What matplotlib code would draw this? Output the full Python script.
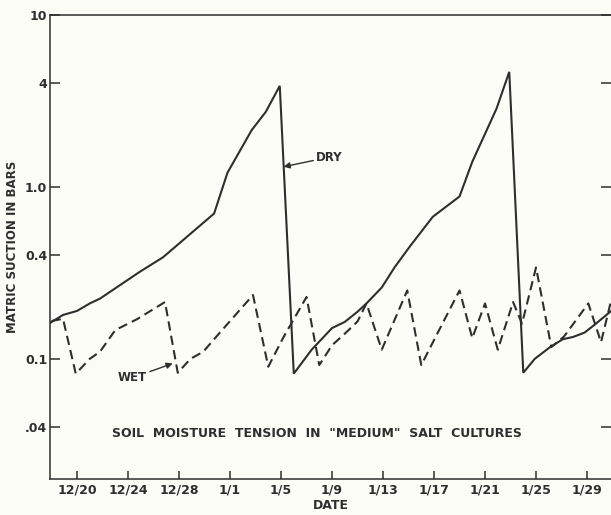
import matplotlib
matplotlib.use("Agg")
import matplotlib.pyplot as plt
from matplotlib.ticker import FixedLocator, NullLocator

# days counted from 12/20
dias_seco = [-2.1, -1.1, 0.0, 1.0, 1.8, 4.9, 6.75, 10.75, 11.8, 13.7, 14.8, 15.9,
             17.0, 18.4, 20.0, 21.0, 22.0, 22.7, 23.9, 24.9, 26.1, 27.9, 30.0, 31.0,
             32.9, 33.9, 35.0, 35.9, 37.1, 38.1, 38.9, 39.8, 40.6, 41.9]
succao_seco = [0.162, 0.18, 0.19, 0.21, 0.224, 0.32, 0.39, 0.70, 1.21, 2.14, 2.73, 3.87,
               0.082, 0.113, 0.151, 0.164, 0.188, 0.21, 0.26, 0.34, 0.45, 0.67, 0.88, 1.40,
               2.85, 4.67, 0.083, 0.10, 0.117, 0.13, 0.134, 0.142, 0.158, 0.19]

dias_umido = [-2.0, -1.1, -0.1, 1.0, 1.8, 3.0, 4.7, 6.9, 7.9, 8.9, 9.9, 11.2, 13.8,
              15.0, 16.2, 18.0, 19.0, 20.0, 21.0, 22.0, 22.7, 23.9, 25.9, 27.0, 28.5,
              30.0, 31.0, 32.0, 33.0, 34.2, 34.9, 36.0, 37.2, 38.2, 40.1, 41.1, 41.9]
succao_umido = [0.166, 0.171, 0.082, 0.10, 0.11, 0.147, 0.17, 0.214, 0.083, 0.10, 0.11, 0.142, 0.235,
                0.09, 0.134, 0.229, 0.092, 0.12, 0.14, 0.165, 0.21, 0.113, 0.25, 0.092, 0.152,
                0.25, 0.132, 0.21, 0.113, 0.214, 0.16, 0.34, 0.117, 0.135, 0.21, 0.125, 0.22]

posicao_datas = [0, 4, 8, 12, 16, 20, 24, 28, 32, 36, 40]
rotulos_datas = ["12/20", "12/24", "12/28", "1/1", "1/5", "1/9", "1/13", "1/17", "1/21", "1/25", "1/29"]
valores_y = [0.04, 0.1, 0.4, 1.0, 4, 10]
rotulos_y = [".04", "0.1", "0.4", "1.0", "4", "10"]

cor = "#2e2e2e"
fundo = "#fdfdf8"
fonte = dict(family="DejaVu Sans", weight="bold", color=cor)

fig = plt.figure(figsize=(6.11, 5.15), dpi=100, facecolor=fundo)
ax = fig.add_axes([50 / 611, 1 - 479 / 515, 1 - 50 / 611, (479 - 15) / 515])
ax.set_facecolor(fundo)

ax.plot(dias_seco, succao_seco, color=cor, lw=1.5, solid_joinstyle="miter")
ax.plot(dias_umido, succao_umido, color=cor, lw=1.5, linestyle=(0, (4.5, 2.5)))

ax.set_yscale("log")
ax.set_ylim(0.02, 10)
ax.set_xlim(-2.12, 41.88)

ax.yaxis.set_major_locator(FixedLocator(valores_y))
ax.yaxis.set_minor_locator(NullLocator())
ax.set_yticklabels(rotulos_y, fontsize=9, **fonte)
ax.set_xticks(posicao_datas)
ax.set_xticklabels(rotulos_datas, fontsize=9, **fonte)

ax.tick_params(axis="y", direction="in", length=7.5, width=1.1, color=cor,
               right=True, pad=2)
ax.tick_params(axis="x", direction="in", length=5.5, width=1.1, color=cor, pad=3)

for lado in ["left", "bottom", "top"]:
    ax.spines[lado].set_color(cor)
    ax.spines[lado].set_linewidth(1.1)
ax.spines["right"].set_visible(False)

ax.set_xlabel("DATE", fontsize=9, labelpad=2, **fonte)
ax.set_ylabel("MATRIC SUCTION IN BARS", fontsize=8.5, labelpad=4, **fonte)

ax.text(0.476, 0.099, 'SOIL  MOISTURE  TENSION  IN  "MEDIUM"  SALT  CULTURES',
        transform=ax.transAxes, ha="center", va="center", fontsize=9, **fonte)

seta = dict(arrowstyle="-|>", color=cor, lw=1.0, mutation_scale=9, shrinkA=0, shrinkB=0)
ax.annotate("DRY", xy=(16.2, 1.31), xytext=(18.75, 1.49), ha="left", va="center",
            fontsize=8.5, arrowprops=seta, **fonte)
ax.annotate("WET", xy=(7.5, 0.094), xytext=(5.5, 0.0776), ha="right", va="center",
            fontsize=8.5, arrowprops=seta, **fonte)

fig.savefig("out.png", dpi=100, facecolor=fundo)
